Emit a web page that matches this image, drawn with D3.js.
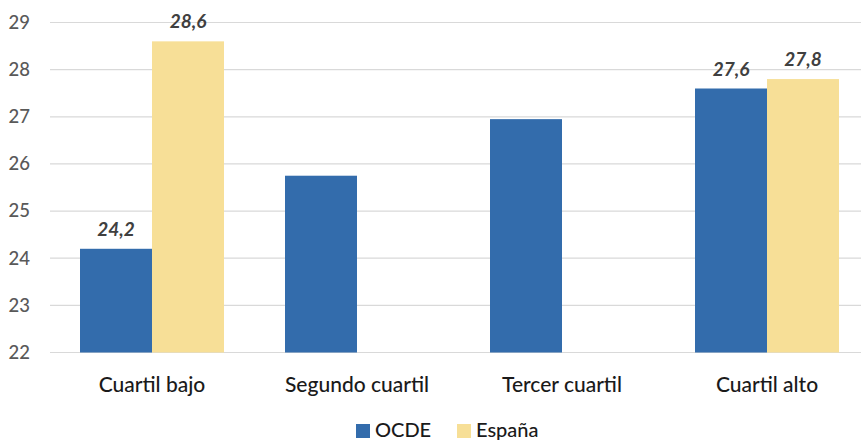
<!DOCTYPE html>
<html>
<head>
<meta charset="utf-8">
<script src="https://cdn.jsdelivr.net/npm/d3@7"></script>
<style>
  html, body { margin: 0; padding: 0; background: #fff; }
  svg { display: block; }
</style>
</head>
<body>
<svg id="chart" width="861" height="442"></svg>
<script>
// Quartile categories and the two series (null = no bar)
const categories = ["Cuartil bajo", "Segundo cuartil", "Tercer cuartil", "Cuartil alto"];
const seriesNames = ["OCDE", "España"];
const ocdeValues = [24.2, 25.75, 26.95, 27.6];
const espanaValues = [28.6, null, null, 27.8];
// Only these bars carry a value label
const ocdeLabelled = [true, false, false, true];
const espanaLabelled = [true, false, false, true];
const yTicks = [22, 23, 24, 25, 26, 27, 28, 29];

const colors = { "OCDE": "#336CAC", "España": "#F7DF97" };
const font = "Lato, 'Open Sans', sans-serif";

const svg = d3.select("#chart");
const W = 861, H = 442;

const y = d3.scaleLinear().domain([22, 29]).range([352.5, 22.5]);

const x0 = d3.scaleBand()
  .domain(categories)
  .range([49.5, 869.5])
  .paddingInner(0.2976)
  .paddingOuter(0.1488);

const x1 = d3.scaleBand()
  .domain(seriesNames)
  .range([0, x0.bandwidth()])
  .padding(0);

// Horizontal gridlines
svg.append("g")
  .selectAll("line")
  .data(yTicks)
  .join("line")
  .attr("x1", 50)
  .attr("x2", W)
  .attr("y1", d => y(d))
  .attr("y2", d => y(d))
  .attr("stroke", "#D9D9D9")
  .attr("stroke-width", 1.2);

// Y axis labels
const yAxis = d3.axisLeft(y).tickValues(yTicks).tickSize(0).tickPadding(0).tickFormat(d3.format("d"));
const yg = svg.append("g").attr("transform", "translate(30,0)").call(yAxis);
yg.select(".domain").remove();
yg.selectAll("text")
  .attr("font-family", font)
  .attr("font-size", 18.5)
  .attr("font-weight", 500)
  .attr("fill", "#595959");

// Bars
const rows = categories.map((c, i) => ({
  cat: c,
  items: [
    { s: "OCDE", v: ocdeValues[i], lab: ocdeLabelled[i] },
    { s: "España", v: espanaValues[i], lab: espanaLabelled[i] }
  ].filter(d => d.v != null)
}));

const groups = svg.append("g")
  .selectAll("g")
  .data(rows)
  .join("g")
  .attr("transform", d => `translate(${x0(d.cat)},0)`);

groups.selectAll("rect")
  .data(d => d.items)
  .join("rect")
  .attr("x", d => x1(d.s))
  .attr("width", x1.bandwidth())
  .attr("y", d => y(d.v))
  .attr("height", d => y(22) - y(d.v))
  .attr("fill", d => colors[d.s]);

// Value labels (decimal comma)
const fmt = v => d3.format(".1f")(Math.floor(v * 10 + 1e-9) / 10).replace(".", ",");
groups.selectAll("text.val")
  .data(d => d.items.filter(e => e.lab))
  .join("text")
  .attr("class", "val")
  .attr("x", d => x1(d.s) + x1.bandwidth() / 2)
  .attr("y", d => y(d.v) - 13)
  .attr("text-anchor", "middle")
  .attr("font-family", font)
  .attr("font-size", 19)
  .attr("font-style", "italic")
  .attr("font-weight", 700)
  .attr("fill", "#404040")
  .text(d => fmt(d.v));

// Category labels
const xAxis = d3.axisBottom(x0).tickSize(0).tickPadding(0);
const xg = svg.append("g").attr("transform", "translate(0,377)").call(xAxis);
xg.select(".domain").remove();
xg.selectAll("text")
  .attr("font-family", font)
  .attr("font-size", 21)
  .attr("font-weight", 500)
  .attr("fill", "#1a1a1a");

// Legend
const legend = svg.append("g").attr("transform", "translate(356,0)");
const legendItems = [
  { s: "OCDE", x: 0 },
  { s: "España", x: 101 }
];
const li = legend.selectAll("g").data(legendItems).join("g")
  .attr("transform", d => `translate(${d.x},0)`);
li.append("rect")
  .attr("x", 0).attr("y", 424)
  .attr("width", 14).attr("height", 14)
  .attr("fill", d => colors[d.s]);
li.append("text")
  .attr("x", 19).attr("y", 437)
  .attr("font-family", font)
  .attr("font-size", 20)
  .attr("font-weight", 500)
  .attr("fill", "#1a1a1a")
  .text(d => d.s);
</script>
</body>
</html>
